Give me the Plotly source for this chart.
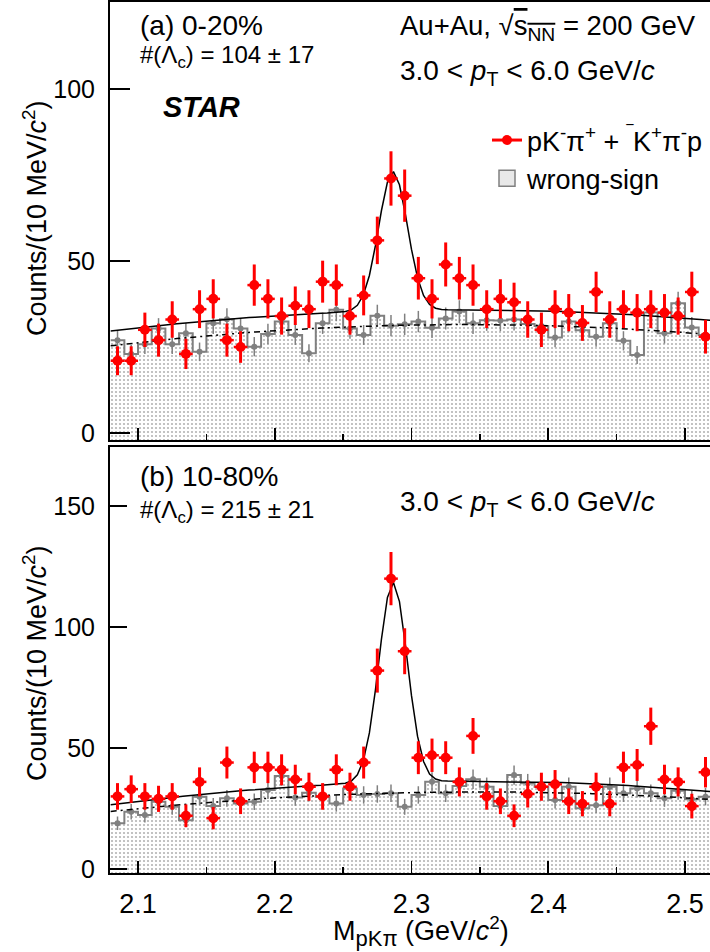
import numpy as np
import plotly.graph_objects as go

# ---------------- data ----------------
mass_bins = [2.085, 2.095, 2.105, 2.115, 2.125, 2.135, 2.145, 2.155, 2.165, 2.175,
             2.185, 2.195, 2.205, 2.215, 2.225, 2.235, 2.245, 2.255, 2.265, 2.275,
             2.285, 2.295, 2.305, 2.315, 2.325, 2.335, 2.345, 2.355, 2.365, 2.375,
             2.385, 2.395, 2.405, 2.415, 2.425, 2.435, 2.445, 2.455, 2.465, 2.475,
             2.485, 2.495, 2.505, 2.515]
bin_width = 0.01

# (a) 0-20%
a_rs = [21, 21, 30, 27, 33, 23, 36, 39, 27, 25, 43, 39, 34, 37, 36, 44, 43, 34, 40, 56,
        74, 69, 45, 39, 49, 45, 43, 36, 39, 38, 33, 30, 36, 35, 32, 41, 33, 36, 35, 36,
        35, 34, 41, 28]
a_rs_err = [4.2, 4.2, 5.0, 4.8, 5.3, 4.4, 5.5, 5.7, 4.8, 4.6, 6.0, 5.7, 5.4, 5.6, 5.5, 6.1, 6.0, 5.4, 5.8, 6.9,
            7.9, 7.6, 6.2, 5.7, 6.4, 6.2, 6.0, 5.5, 5.7, 5.7, 5.3, 5.0, 5.5, 5.4, 5.2, 5.9, 5.3, 5.5, 5.4, 5.5,
            5.4, 5.4, 5.9, 4.9]
a_ws = [27.0, 23.0, 25.8, 30.4, 25.8, 29.0, 23.6, 31.9, 33.1, 30.4, 25.1, 28.8, 32.4, 28.5, 23.2, 31.9,
        35.8, 30.4, 28.5, 34.1, 31.2, 31.6, 32.4, 30.6, 33.3, 35.3, 31.9, 32.8, 32.7, 33.0, 31.7, 31.1,
        27.8, 32.4, 29.9, 28.0, 31.9, 26.8, 22.7, 35.0, 29.0, 37.7, 30.7, 28.5]
a_ws_err = [2.9, 2.6, 2.8, 3.0, 2.8, 3.0, 2.7, 3.1, 3.2, 3.0, 2.8, 3.0, 3.1, 2.9, 2.6, 3.1,
            3.3, 3.0, 2.9, 3.2, 3.1, 3.1, 3.1, 3.0, 3.2, 3.3, 3.1, 3.1, 3.1, 3.2, 3.1, 3.1,
            2.9, 3.1, 3.0, 2.9, 3.1, 2.8, 2.6, 3.3, 3.0, 3.4, 3.0, 2.9]

# (b) 10-80%
b_rs = [30, 33, 30, 29, 30, 22, 36, 21, 44, 28, 42, 42, 41, 37, 34, 30, 41, 34, 44, 82,
        120, 90, 46, 47, 46, 36, 55, 30, 28, 22, 31, 34, 35, 28, 27, 34, 27, 42, 43, 59,
        37, 36, 26, 40]
b_rs_err = [5.5, 5.7, 5.5, 5.4, 5.5, 4.7, 6.0, 4.6, 6.6, 5.3, 6.5, 6.5, 6.4, 6.1, 5.8, 5.5, 6.4, 5.8, 6.6, 9.1,
            11.0, 9.5, 6.8, 6.9, 6.8, 6.0, 7.4, 5.5, 5.3, 4.7, 5.6, 5.8, 5.9, 5.3, 5.2, 5.8, 5.2, 6.5, 6.6, 7.7,
            6.1, 6.0, 5.1, 6.3]
b_ws = [18.9, 23.7, 22.3, 27.8, 25.7, 20.2, 29.9, 26.0, 29.2, 27.1, 27.8, 32.6, 38.4, 29.6, 31.5, 29.9,
        27.1, 33.3, 30.6, 31.0, 31.3, 25.7, 30.6, 36.1, 31.3, 34.3, 37.1, 34.0, 26.0, 38.8, 35.4, 34.0,
        28.5, 34.0, 25.1, 26.4, 34.0, 31.3, 33.3, 31.3, 29.2, 32.3, 28.8, 29.9]
b_ws_err = [2.8, 3.2, 3.1, 3.4, 3.3, 2.9, 3.6, 3.3, 3.5, 3.4, 3.4, 3.7, 4.0, 3.5, 3.6, 3.6,
            3.4, 3.8, 3.6, 3.6, 3.6, 3.3, 3.6, 3.9, 3.6, 3.8, 4.0, 3.8, 3.3, 4.0, 3.9, 3.8,
            3.5, 3.8, 3.3, 3.3, 3.8, 3.6, 3.8, 3.6, 3.5, 3.7, 3.5, 3.6]

# fit results (Gaussian + quadratic residual background; quadratic for scaled wrong-sign)
a_fit = dict(mean=2.2865, sigma=0.0105, amp=40.4, x0=2.32, poly=[35.8, 3.28, -93.1])
a_ws_fit = dict(x0=2.30, poly=[31.4, 7.3, -91.7])
b_fit = dict(mean=2.2865, sigma=0.0104, amp=82.6, x0=2.33, poly=[36.3, 3.87, -140.8])
b_ws_fit = dict(x0=2.30, poly=[31.6, 11.16, -110.3])

x_range = [2.0795, 2.5183]
a_yrange = [-2.03, 125.3]
b_yrange = [-1.65, 174.4]

# ---------------- helpers ----------------
RED = "#ff0000"
GRAY = "#808080"
FONT = "Liberation Sans, Arial, Helvetica, sans-serif"
fit_x = np.linspace(2.08, 2.52, 101)
PATTERN = dict(shape=".", fgcolor="#b4b4b4", bgcolor="#ffffff", size=4, solidity=0.22)


def poly(x, p):
    u = x - p["x0"]
    c = p["poly"]
    return c[0] + c[1] * u + c[2] * u ** 2


def full_fit(x, p):
    return poly(x, p) + p["amp"] * np.exp(-0.5 * ((x - p["mean"]) / p["sigma"]) ** 2)


edges = [c - bin_width / 2 for c in mass_bins] + [mass_bins[-1] + bin_width / 2]

fig = go.Figure()


def add_panel(xa, ya, rs, rs_err, ws, ws_err, fit, wsfit, yr):
    # baseline for the histogram fill (frame bottom)
    fig.add_trace(go.Scatter(x=[edges[0], edges[-1]], y=[yr[0], yr[0]], mode="lines",
                             line=dict(width=0, color=GRAY), showlegend=False,
                             hoverinfo="skip", xaxis=xa, yaxis=ya))
    fig.add_trace(go.Scatter(x=edges, y=list(ws) + [ws[-1]], mode="lines",
                             line=dict(shape="hv", color=GRAY, width=2),
                             fill="tonexty", fillcolor="rgba(0,0,0,0)",
                             fillpattern=PATTERN,
                             showlegend=False, xaxis=xa, yaxis=ya))
    fig.add_trace(go.Scatter(x=mass_bins, y=ws, mode="markers", marker=dict(size=0, color=GRAY),
                             error_y=dict(type="data", array=ws_err, color=GRAY, thickness=1.5, width=0),
                             showlegend=False, xaxis=xa, yaxis=ya))
    fig.add_trace(go.Scatter(x=fit_x, y=poly(fit_x, wsfit), mode="lines",
                             line=dict(color="black", width=1.5, dash="6px,4px,2px,4px"),
                             showlegend=False, xaxis=xa, yaxis=ya))
    fig.add_trace(go.Scatter(x=fit_x, y=full_fit(fit_x, fit), mode="lines",
                             line=dict(color="black", width=1.5),
                             showlegend=False, xaxis=xa, yaxis=ya))
    fig.add_trace(go.Scatter(x=mass_bins, y=rs, mode="markers",
                             marker=dict(symbol="circle", size=10, color=RED),
                             error_y=dict(type="data", array=rs_err, color=RED, thickness=3, width=0),
                             error_x=dict(type="constant", value=bin_width / 2, color=RED, thickness=2.5, width=0),
                             showlegend=False, xaxis=xa, yaxis=ya))


add_panel("x", "y", a_rs, a_rs_err, a_ws, a_ws_err, a_fit, a_ws_fit, a_yrange)
add_panel("x2", "y2", b_rs, b_rs_err, b_ws, b_ws_err, b_fit, b_ws_fit, b_yrange)

# legend entries
fig.add_trace(go.Scatter(x=[None], y=[None], mode="lines+markers",
                         line=dict(color=RED, width=3), marker=dict(size=10, color=RED),
                         name="pK<sup>-</sup>π<sup>+</sup> + <sup>‾</sup>K<sup>+</sup>π<sup>-</sup>p",
                         xaxis="x", yaxis="y"))
fig.add_trace(go.Scatter(x=[None], y=[None], mode="markers",
                         marker=dict(symbol="square", size=27, color="#e8e8e8",
                                     line=dict(color=GRAY, width=1.5)),
                         name="wrong-sign", xaxis="x", yaxis="y"))

H = 952
W = 710
ML, MR, MT, MB = 110, 0, 2, 79
PH = H - MT - MB


def py(pix):
    return (H - MB - pix) / PH


def px(pix):
    return (pix - ML) / (W - ML - MR)


axis_common = dict(showline=True, linecolor="black", linewidth=2, mirror=True,
                   ticks="inside", tickcolor="black", tickwidth=1.5,
                   showgrid=False, zeroline=False, automargin=False,
                   tickfont=dict(family=FONT, size=25, color="black"))

xa_common = dict(axis_common, range=x_range, dtick=0.1, tick0=2.1, ticklen=12,
                 minor=dict(dtick=0.05, tick0=2.1, ticks="inside", ticklen=6, tickcolor="black", tickwidth=1.5))

fig.update_layout(
    template="none",
    width=W, height=H,
    margin=dict(l=ML, r=MR, t=MT, b=MB, autoexpand=False),
    paper_bgcolor="white", plot_bgcolor="white",
    font=dict(family=FONT, color="black"),
    hovermode=False,
    xaxis=dict(xa_common, domain=[0, 1], anchor="y", showticklabels=False),
    yaxis=dict(axis_common, domain=[py(440), 1], anchor="x", range=a_yrange,
               tickvals=[0, 50, 100], ticklen=20, mirror=False, ticklabelstandoff=8),
    xaxis2=dict(xa_common, domain=[0, 1], anchor="y2", showticklabels=True, ticklabelstandoff=6,
                tickfont=dict(family=FONT, size=27, color="black")),
    yaxis2=dict(axis_common, domain=[0, py(447)], anchor="x2", range=b_yrange,
                tickvals=[0, 50, 100, 150], ticklen=17, mirror=False, ticklabelstandoff=8),
    showlegend=True,
    legend=dict(x=px(487), y=py(116), xanchor="left", yanchor="top", traceorder="normal",
                bgcolor="rgba(255,255,255,0)", font=dict(family=FONT, size=27, color="black"),
                itemwidth=30, tracegroupgap=0, itemsizing="trace"),
)

ann = []


def text(xpix, ypix, t, size, xanchor="left", **kw):
    ann.append(dict(x=px(xpix), y=py(ypix), xref="paper", yref="paper", text=t, showarrow=False,
                    xanchor=xanchor, yanchor="middle", font=dict(family=FONT, size=size, color="black"), **kw))


text(138, 25, "(a) 0-20%", 28)
text(138, 57, "#(Λ<sub>c</sub>) = 104 ± 17", 24)
text(161, 107, "<b><i>STAR</i></b>", 29)
text(398, 28, "Au+Au, √<span style='text-decoration:overline'>s<sub>NN</sub></span> = 200 GeV", 27.5)
text(398, 73, "3.0 &lt; <i>p</i><sub>T</sub> &lt; 6.0 GeV/<i>c</i>", 28)
text(138, 476, "(b) 10-80%", 28)
text(138, 511, "#(Λ<sub>c</sub>) = 215 ± 21", 24)
text(398, 503, "3.0 &lt; <i>p</i><sub>T</sub> &lt; 6.0 GeV/<i>c</i>", 28)
text(35, 218, "Counts/(10 MeV/<i>c</i><sup>2</sup>)", 27, xanchor="center", textangle=-90)
text(35, 663, "Counts/(10 MeV/<i>c</i><sup>2</sup>)", 27, xanchor="center", textangle=-90)
text(421, 932, "M<sub><span style='font-size:22px'>pKπ</span></sub> (GeV/<i>c</i><sup>2</sup>)", 27, xanchor="center")

fig.update_layout(annotations=ann)

fig.write_html("out.html", config={"displayModeBar": False, "staticPlot": True},
               post_script="document.body.style.margin='0px';document.body.style.overflow='hidden';")
